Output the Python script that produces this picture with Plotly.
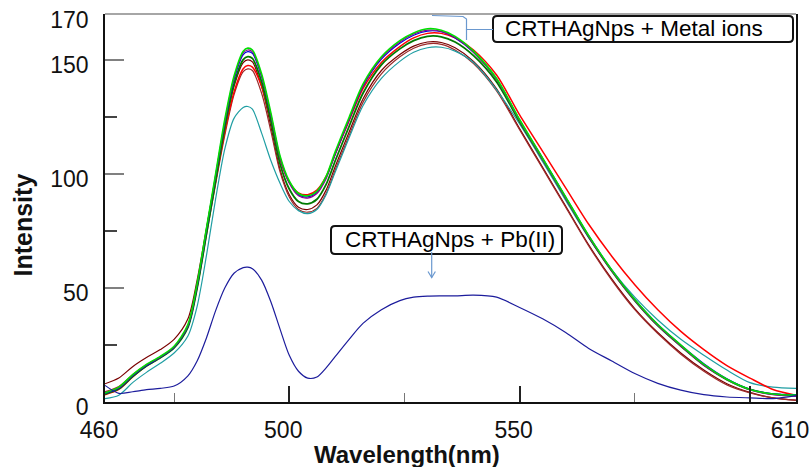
import plotly.graph_objects as go

# Emission wavelength grid (nm)
wavelength = [460, 463, 466, 469, 472, 475, 478, 480, 482, 484, 486, 488, 490, 491, 492,
              494, 496, 498, 500, 502, 504, 506, 508, 510, 513, 516, 520, 524, 527, 530,
              533, 536, 540, 545, 550, 555, 560, 565, 570, 575, 580, 585, 590, 595, 600,
              605, 610]

# Fluorescence intensity of CRTHAgNps with the different metal ions
metal_lime = [4.0, 6.5, 12.0, 16.5, 20.0, 24.5, 34.0, 52.0, 76.0, 100.0, 124.0, 143.0, 154.0, 155.3, 154.5,
              144.0, 127.0, 108.0, 97.0, 91.5, 90.5, 92.5, 99.0, 110.0, 125.0, 139.5, 151.5, 158.6, 162.0, 163.8,
              163.2, 160.5, 154.0, 142.0, 124.0, 107.0, 90.0, 73.0, 58.0, 45.0, 34.0, 25.0, 16.5, 10.0, 5.5,
              3.5, 3.0]
metal_purple = [4.2, 6.3, 11.8, 16.3, 19.8, 24.2, 33.5, 51.5, 75.5, 99.5, 123.0, 142.2, 153.2, 154.5, 153.7,
                143.2, 126.0, 107.0, 96.0, 90.5, 89.5, 91.5, 98.0, 109.0, 124.0, 138.8, 151.0, 158.0, 161.5, 163.2,
                162.7, 160.0, 153.5, 141.5, 123.5, 106.5, 89.5, 72.5, 57.5, 44.5, 33.5, 24.5, 16.0, 9.8, 5.3,
                3.2, 2.5]
metal_blue = [3.8, 6.0, 11.5, 16.0, 19.6, 24.0, 33.2, 51.0, 75.0, 99.0, 122.5, 141.5, 152.5, 153.8, 153.0,
              142.8, 126.0, 107.5, 96.5, 91.0, 90.0, 92.0, 98.5, 109.0, 124.0, 138.5, 150.5, 157.5, 161.0, 162.8,
              162.5, 159.8, 153.5, 141.8, 123.8, 107.0, 90.0, 73.0, 58.0, 45.0, 34.0, 25.0, 16.8, 10.2, 5.6,
              3.6, 3.2]
metal_darkgreen = [3.5, 5.8, 11.2, 15.8, 19.4, 23.8, 32.8, 50.0, 73.5, 97.0, 120.5, 139.5, 150.3, 151.6, 150.8,
                   140.5, 123.5, 104.5, 93.5, 88.0, 87.0, 89.0, 95.5, 106.0, 121.0, 135.5, 148.0, 155.0, 158.6, 160.5,
                   160.3, 158.0, 152.0, 140.5, 123.0, 106.5, 89.5, 72.5, 57.5, 44.5, 33.5, 24.5, 16.2, 9.8, 5.5,
                   3.5, 3.0]
metal_red = [3.2, 5.5, 11.0, 15.8, 19.5, 24.0, 33.5, 51.0, 74.5, 97.0, 118.5, 136.0, 146.3, 147.7, 147.0,
             138.5, 123.5, 106.5, 96.5, 91.8, 91.0, 93.0, 99.0, 109.0, 123.5, 137.5, 149.0, 156.0, 159.8, 161.8,
             161.8, 159.8, 154.5, 143.5, 126.0, 110.0, 94.0, 78.0, 64.0, 51.5, 40.5, 31.0, 23.0, 16.0, 10.5,
             5.5, 2.9]
metal_maroon = [8.0, 10.5, 15.5, 19.5, 23.0, 27.5, 36.5, 53.5, 76.0, 98.5, 120.5, 138.5, 149.0, 150.2, 149.3,
                138.5, 121.0, 102.0, 91.0, 85.5, 84.5, 86.5, 93.0, 103.5, 118.5, 133.0, 145.5, 152.5, 156.2, 158.0,
                157.8, 155.5, 149.5, 137.5, 120.0, 103.0, 86.0, 69.0, 54.0, 41.0, 30.5, 21.5, 14.0, 8.0, 4.2,
                1.8, 0.8]
metal_brown = [4.5, 6.8, 12.0, 16.3, 19.8, 24.0, 33.0, 50.0, 73.0, 95.5, 117.0, 134.8, 145.0, 146.2, 145.5,
               135.5, 119.0, 101.0, 90.0, 84.5, 83.3, 85.0, 91.5, 102.0, 117.0, 131.5, 144.0, 151.5, 155.3, 157.2,
               157.0, 154.5, 148.5, 136.5, 119.5, 102.5, 85.5, 68.5, 53.5, 40.5, 30.0, 21.0, 13.5, 7.5, 4.0,
               1.8, 0.7]
metal_cyan = [1.5, 3.0, 8.5, 13.0, 17.0, 21.5, 29.0, 42.0, 64.0, 89.0, 111.0, 124.5, 129.3, 129.7, 128.5,
              118.0, 106.0, 96.0, 88.0, 84.0, 82.7, 84.5, 91.0, 101.0, 116.0, 130.0, 142.0, 149.5, 153.5, 155.5,
              155.7, 154.0, 149.0, 137.0, 122.0, 105.5, 88.5, 72.0, 58.0, 46.0, 36.0, 27.5, 20.5, 14.0, 8.5,
              6.5, 6.0]

# Quenched emission with Pb(II)
pb_ii = [7.3, 3.8, 4.5, 5.4, 6.0, 7.0, 11.5, 18.0, 28.0, 40.0, 50.0, 56.5, 59.0, 59.2, 58.5,
         53.5, 44.0, 32.0, 20.5, 13.5, 10.5, 11.0, 15.0, 20.0, 27.5, 34.5, 40.5, 44.5, 46.0, 46.5,
         46.6, 46.6, 46.9, 46.0, 41.5, 36.5, 30.5, 23.5, 18.0, 12.5, 8.2, 5.2, 3.2, 2.2, 1.8,
         1.5, 2.8]

x_tick_vals = [460, 500, 550, 600, 610]
x_tick_text = ["460", "500", "550", "", "610"]
y_tick_vals = [0, 50, 100, 150, 170]
y_tick_text = ["0", "50", "100", "150", "170"]

label_metal = "CRTHAgNps + Metal ions"
label_pb = "CRTHAgNps + Pb(II)"

FONT = "Liberation Sans, Arial, sans-serif"

# plot-area geometry in pixels, used to place callouts
W, H = 812, 467
L, R, T, B = 105, 16, 14, 65
PW, PH = W - L - R, H - T - B


def px(xp, yp):
    return (xp - L) / PW, (H - B - yp) / PH


def rounded_box(x0, y0, x1, y1, r=4):
    ax, ay = px(x0, y0)
    bx, by = px(x1, y1)
    rx, ry = r / PW, r / PH
    return (f"M {ax + rx},{ay} L {bx - rx},{ay} Q {bx},{ay} {bx},{ay - ry} "
            f"L {bx},{by + ry} Q {bx},{by} {bx - rx},{by} L {ax + rx},{by} "
            f"Q {ax},{by} {ax},{by + ry} L {ax},{ay - ry} Q {ax},{ay} {ax + rx},{ay} Z")


def polyline(points):
    pts = [px(a, b) for a, b in points]
    return "M " + " L ".join(f"{a},{b}" for a, b in pts)


series = [
    (metal_maroon, "#7a0000", 1.2),
    (metal_brown, "#9c2a2a", 1.2),
    (metal_cyan, "#1f9ea3", 1.2),
    (metal_red, "#ff0000", 1.5),
    (metal_darkgreen, "#007a00", 1.8),
    (metal_blue, "#0000dd", 1.2),
    (metal_purple, "#8a008a", 1.2),
    (metal_lime, "#00e000", 1.6),
    (pb_ii, "#1c1c9c", 1.2),
]

fig = go.Figure()
for ys, color, width in series:
    fig.add_trace(go.Scatter(x=wavelength, y=ys, mode="lines",
                             line=dict(color=color, width=width, shape="spline", smoothing=0.8),
                             showlegend=False, hoverinfo="skip"))

fig.update_xaxes(range=[460, 610], showgrid=False, zeroline=False,
                 showline=True, linecolor="#111", linewidth=1.5, mirror=False,
                 tickmode="array", tickvals=x_tick_vals, ticktext=x_tick_text,
                 ticks="inside", ticklen=16, tickwidth=1.5, tickcolor="#222",
                 ticklabelstandoff=7, ticklabelshift=-6,
                 tickfont=dict(family=FONT, size=23, color="#111"),
                 minor=dict(ticks="inside", ticklen=9, tickwidth=1.2, tickcolor="#777",
                            tick0=0, dtick=25))
fig.update_yaxes(range=[0, 170.3], showgrid=False, zeroline=False,
                 showline=True, linecolor="#111", linewidth=1.8, mirror=True,
                 tickmode="array", tickvals=y_tick_vals, ticktext=y_tick_text,
                 ticks="inside", ticklen=19, tickwidth=2, tickcolor="#808080",
                 ticklabelstandoff=10, ticklabelshift=5,
                 tickfont=dict(family=FONT, size=23, color="#111"),
                 minor=dict(ticks="inside", ticklen=12, tickwidth=1.5, tickcolor="#444",
                            tick0=0, dtick=25))

callout = "#6a98cf"
shapes = [
    # gray top frame line
    dict(type="line", xref="paper", yref="paper", x0=0, x1=1, y0=1, y1=1,
         line=dict(color="#888", width=1.5)),
    # label boxes
    dict(type="path", xref="paper", yref="paper", path=rounded_box(493, 16, 793, 42),
         fillcolor="white", line=dict(color="#111", width=2)),
    dict(type="path", xref="paper", yref="paper", path=rounded_box(331, 226, 562, 254),
         fillcolor="white", line=dict(color="#111", width=2)),
    # bracket pointing at the metal-ion curves
    dict(type="path", xref="paper", yref="paper",
         path=polyline([(432, 15.5), (463, 16.5), (466.5, 19), (466.5, 29.5), (493, 29.5)]),
         line=dict(color=callout, width=1.2)),
    dict(type="path", xref="paper", yref="paper",
         path=polyline([(466.5, 29.5), (466.5, 40)]),
         line=dict(color=callout, width=1.2)),
    # arrow pointing at the Pb(II) curve
    dict(type="path", xref="paper", yref="paper",
         path=polyline([(431.7, 252), (431.7, 277.5)]),
         line=dict(color=callout, width=1.2)),
    dict(type="path", xref="paper", yref="paper",
         path=polyline([(428, 271.5), (431.7, 277.5), (435.4, 271.5)]),
         line=dict(color=callout, width=1.2)),
]

ax, ay = px(634, 29)
bx, by = px(450, 240)
ix, iy = px(22.5, 225)
wx, wy = px(407, 439)
annotations = [
    dict(text=label_metal, xref="paper", yref="paper", x=ax, y=ay, showarrow=False,
         xanchor="center", yanchor="middle", font=dict(family=FONT, size=22.5, color="#000")),
    dict(text=label_pb, xref="paper", yref="paper", x=bx, y=by, showarrow=False,
         xanchor="center", yanchor="middle", font=dict(family=FONT, size=22.5, color="#000")),
    dict(text="<b>Intensity</b>", xref="paper", yref="paper", x=ix, y=iy, showarrow=False,
         textangle=-90, xanchor="center", yanchor="middle",
         font=dict(family=FONT, size=25, color="#111")),
    dict(text="<b>Wavelength(nm)</b>", xref="paper", yref="paper", x=wx, y=wy, showarrow=False,
         xanchor="center", yanchor="top", font=dict(family=FONT, size=24, color="#111")),
]

fig.update_layout(width=W, height=H, margin=dict(l=L, r=R, t=T, b=B, autoexpand=False),
                  paper_bgcolor="white", plot_bgcolor="white",
                  shapes=shapes, annotations=annotations)

fig.write_html("out.html")
